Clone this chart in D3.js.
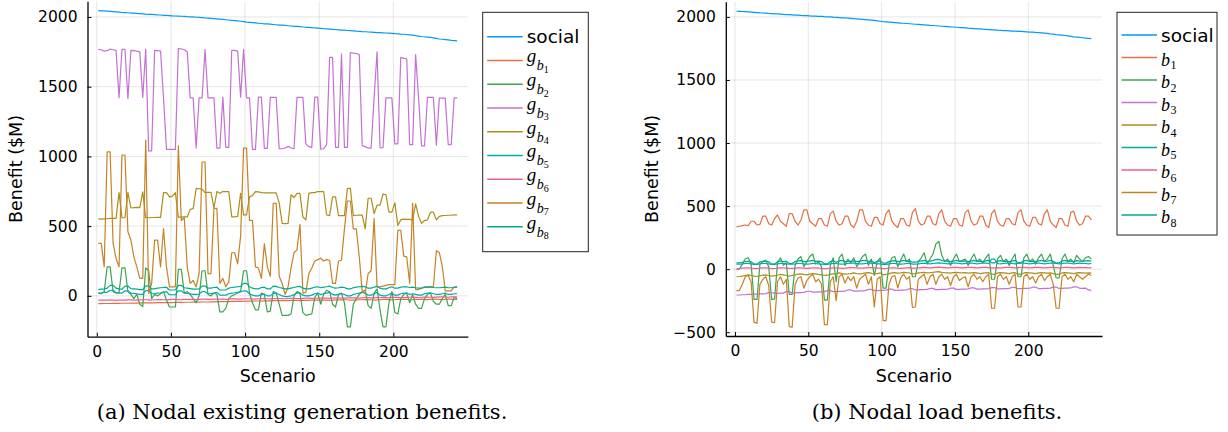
<!DOCTYPE html>
<html><head><meta charset="utf-8">
<script src="https://cdn.jsdelivr.net/npm/d3@7"></script>
<style>body{margin:0;background:#fff}svg{display:block}</style>
</head><body><svg id="c" width="1228" height="432"></svg>
<script>
// Scenario index (sampled every 2nd scenario)
const scenarios = d3.range(1, 244, 2);
const xTicks = [0, 50, 100, 150, 200];
const yTicksL = [0, 500, 1000, 1500, 2000];
const yTicksR = [-500, 0, 500, 1000, 1500, 2000];

const social = [2045,2044,2043,2042,2040,2038,2036,2034,2032,2031,
2030,2028,2027,2025,2024,2022,2020,2019,2018,2017,
2015,2014,2012,2011,2010,2008,2007,2006,2005,2004,
2002,2001,2000,1998,1997,1995,1993,1992,1990,1988,
1986,1984,1982,1980,1978,1976,1974,1972,1969,1966,
1963,1961,1959,1957,1955,1953,1951,1950,1948,1946,
1944,1942,1941,1939,1937,1935,1933,1932,1930,1928,
1926,1925,1923,1921,1920,1918,1916,1915,1913,1911,
1910,1908,1906,1905,1903,1902,1900,1898,1897,1895,
1894,1892,1891,1890,1888,1887,1886,1885,1884,1882,
1880,1879,1877,1876,1874,1872,1870,1866,1863,1860,
1858,1856,1853,1850,1846,1842,1840,1838,1835,1832,
1830,1828];

// ---- (a) generation benefits ----
const gb1 = [-56,-56,-55,-55,-55,-54,-54,-54,-53,-53,-53,-52,-52,-52,-51,-51,-51,-50,-50,-50,-49,-49,-49,-48,-48,-48,-47,-47,-47,-46,
-46,-46,-45,-45,-45,-44,-44,-44,-43,-43,-42,-42,-42,-41,-41,-40,-40,-40,-39,-39,-38,-38,-38,-37,-37,-37,-36,-36,-36,-35,
-35,-35,-34,-34,-34,-33,-33,-33,-32,-32,-32,-31,-31,-31,-30,-30,-30,-31,-32,-30,-29,-29,-29,-28,-28,-30,-31,-29,-28,-28,
-27,-27,-28,-30,-29,-27,-26,-26,-27,-29,-28,-26,-25,-25,-26,-28,-27,-25,-25,-24,-26,-27,-25,-24,-24,-25,-27,-26,-24,-24,
-25,-26];
const gb2 = [20,15,30,208,208,30,20,25,200,200,
30,10,-20,10,-60,-77,200,180,-20,10,
0,15,30,-30,-80,-80,-80,190,190,20,
30,10,-20,-50,0,180,180,10,0,20,
10,-115,-115,-90,-20,0,10,20,30,180,
180,20,-50,-100,-100,20,10,-115,-110,30,
20,-60,-140,-140,-140,-130,0,30,20,-120,
-140,-135,-130,-10,20,-60,10,40,30,-60,
-80,10,20,-50,-222,-222,-60,-20,10,30,
40,-70,-90,20,50,-100,-222,-222,-50,30,
-120,-130,-20,10,20,-50,10,-60,-90,-90,
-20,10,20,-40,-60,-60,-20,10,-70,-70,
-10,-20];
const gb3 = [1768,1765,1755,1758,1770,1765,1760,1420,1768,1768,
1415,1760,1758,1755,1750,1423,1768,1040,1040,1760,
1758,1755,1420,1050,1050,1050,1050,1775,1770,1765,
1750,1420,1420,1060,1420,1420,1768,1420,1420,1420,
1060,1060,1425,1065,1065,1760,1760,1755,1425,1768,
1420,1420,1050,1050,1425,1425,1058,1058,1423,1423,
1423,1055,1055,1060,1072,1060,1055,1423,1423,1423,
1090,1070,1065,1425,1425,1052,1055,1085,1710,1710,
1065,1065,1735,1065,1065,1745,1740,1738,1730,1077,
1070,1060,1060,1420,1750,1062,1062,1420,1420,1420,
1090,1090,1710,1705,1700,1085,1085,1730,1420,1075,
1075,1423,1423,1423,1080,1418,1418,1418,1085,1085,
1420,1420];
const gb4 = [552,550,552,553,555,556,556,740,560,560,
742,630,632,635,632,745,560,560,562,562,
563,563,740,740,710,715,740,565,565,566,
566,620,625,770,768,765,740,742,742,630,
748,735,748,748,748,567,567,570,735,580,
580,710,720,748,745,740,738,738,738,738,
738,667,520,518,520,725,705,735,735,565,
545,735,740,740,748,748,748,580,575,710,
710,575,575,575,770,770,575,578,579,579,
480,700,700,590,650,650,730,725,600,600,
667,505,545,550,548,548,545,660,570,520,
540,545,600,600,545,570,575,576,578,578,
580,580];
const gb5 = [20,22,25,25,40,40,22,20,20,35,
35,20,18,15,10,10,38,38,15,15,
20,22,25,30,8,8,8,35,35,20,
18,15,10,10,12,30,30,15,15,20,
25,5,5,5,15,20,22,25,30,35,
35,15,5,0,0,10,12,0,0,18,
20,10,0,-5,-5,0,10,20,20,5,
0,0,5,15,20,10,15,20,25,10,
5,10,15,10,0,0,10,15,20,25,
20,5,5,15,25,5,0,0,10,20,
5,5,15,20,20,10,15,10,5,5,
15,20,22,15,10,10,15,20,10,10,
15,15];
const gb6 = [-30,-30,-31,-31,-30,-30,-32,-31,-30,-30,-29,-29,-30,-31,-29,-28,-28,-29,-30,-28,-27,-27,-28,-29,-27,-26,-26,-27,-28,-26,
-25,-25,-26,-27,-25,-24,-24,-25,-26,-24,-23,-23,-24,-25,-23,-22,-22,-23,-24,-22,-21,-21,-22,-23,-21,-20,-20,-21,-22,-20,
-19,-19,-20,-21,-19,-18,-18,-19,-20,-18,-17,-17,-18,-19,-17,-16,-16,-17,-18,-16,-15,-15,-16,-17,-15,-14,-14,-15,-16,-14,
-13,-13,-14,-15,-13,-12,-12,-13,-14,-12,-11,-11,-12,-13,-11,-10,-10,-11,-12,-10,-9,-9,-10,-11,-9,-8,-8,-9,-10,-8,
-8,-8];
const gb7 = [376,376,208,1033,1033,376,268,208,1010,1010,
459,400,280,208,125,125,1117,17,89,400,
400,208,483,208,65,65,65,1075,540,560,
208,89,110,65,160,960,960,160,160,627,
627,89,125,65,100,309,309,230,430,1060,
1060,541,541,208,200,125,374,208,140,663,
663,140,89,10,65,200,309,330,513,20,
25,160,200,250,260,270,250,260,255,89,
89,250,255,480,680,680,480,480,280,30,
17,160,180,555,65,65,70,75,80,80,
80,470,470,285,280,90,663,45,45,55,
65,65,65,65,324,310,210,35,35,35,
65,65];
const gb8 = [45,48,50,55,75,75,55,50,48,70,
70,52,50,48,45,45,72,72,50,50,
55,58,60,62,42,42,42,75,75,58,
55,52,48,48,50,70,70,55,55,60,
62,42,42,42,55,60,62,65,68,90,
90,65,55,50,50,60,62,50,50,70,
68,60,55,50,50,55,60,65,68,55,
50,50,55,62,65,58,62,65,70,60,
55,58,62,60,50,50,58,62,65,68,
65,55,55,62,68,55,50,50,58,65,
55,55,62,65,65,60,62,58,55,55,
60,62,64,60,58,58,60,62,58,58,
60,62];

// ---- (b) load benefits ----
const b1 = [335,340,345,350,345,380,380,350,355,420,
420,360,350,400,430,380,360,340,440,440,
380,350,390,470,470,380,360,340,400,400,
350,340,440,460,380,350,360,420,420,350,
330,380,470,470,380,350,340,410,410,360,
350,440,470,380,350,330,400,400,350,340,
450,480,380,350,360,420,420,360,350,440,
470,380,350,340,400,400,350,340,450,470,
380,350,360,420,420,350,330,440,470,380,
350,340,400,400,360,350,450,470,380,350,
340,410,410,360,350,440,470,380,350,330,
400,400,350,340,450,460,380,350,360,420,
420,390];
const b2 = [0,0,40,80,90,40,-240,-240,40,60,
70,20,-240,-235,50,90,30,50,-200,-200,
30,80,100,20,60,100,120,40,60,20,
-245,-245,30,90,-100,90,120,30,80,50,
90,20,60,100,120,30,80,-50,60,90,
-150,-150,30,90,100,20,70,120,60,80,
-60,-60,60,90,130,40,80,120,200,220,
110,60,80,30,80,120,60,70,80,30,
80,120,60,80,50,90,120,-80,-80,80,
110,60,80,30,80,120,-60,-60,90,120,
60,80,40,90,120,60,80,120,30,-70,
-70,80,120,60,80,50,110,80,60,90,
100,80];
const b3 = [-205,-205,-203,-203,-200,-200,-198,-198,-196,-196,
-194,-185,-185,-192,-192,-190,-190,-178,-178,-188,
-188,-186,-186,-184,-175,-175,-182,-182,-180,-180,
-178,-170,-170,-178,-178,-176,-176,-174,-165,-165,
-174,-174,-172,-172,-170,-160,-160,-170,-170,-168,
-168,-166,-158,-158,-168,-168,-166,-166,-164,-155,
-155,-165,-165,-163,-163,-161,-152,-152,-162,-162,
-160,-160,-158,-150,-150,-160,-160,-158,-158,-156,
-148,-148,-158,-158,-156,-156,-154,-146,-146,-156,
-156,-154,-154,-152,-145,-145,-155,-155,-153,-153,
-151,-143,-143,-154,-154,-152,-152,-150,-142,-142,
-153,-153,-151,-151,-149,-140,-140,-152,-152,-150,
-165,-168];
const b4 = [-60,-58,-55,-50,-45,-50,-55,-58,-52,-48,
-45,-50,-55,-52,-48,-42,-45,-50,-55,-50,
-45,-40,-38,-42,-45,-40,-35,-38,-42,-45,
-50,-48,-42,-38,-35,-30,-35,-40,-38,-35,
-30,-35,-38,-35,-30,-28,-32,-40,-35,-30,
-45,-42,-35,-30,-28,-32,-30,-25,-28,-30,
-38,-36,-30,-28,-25,-30,-28,-25,-22,-20,
-25,-28,-30,-32,-28,-25,-28,-30,-28,-32,
-30,-28,-30,-35,-32,-30,-28,-40,-42,-30,
-28,-30,-32,-35,-30,-28,-40,-42,-30,-28,
-30,-32,-35,-30,-28,-30,-32,-30,-35,-42,
-40,-30,-28,-30,-32,-35,-30,-28,-30,-32,
-30,-32];
const b5 = [40,40,42,45,45,42,38,38,42,45,
45,42,38,38,42,45,45,42,40,40,
42,45,45,42,40,42,45,45,42,40,
38,38,42,45,45,42,40,42,45,48,
48,45,42,42,45,48,48,45,42,42,
38,38,42,45,45,42,40,42,45,48,
40,40,42,45,48,45,42,45,48,50,
48,45,42,45,48,48,45,42,45,48,
48,45,42,45,48,48,45,80,80,45,
42,45,48,48,45,42,45,48,48,45,
42,45,48,48,45,42,45,48,48,45,
42,45,48,48,45,42,45,48,45,45,
42,45];
const b6 = [5,5,8,10,10,8,5,5,8,10,
10,8,5,5,8,10,10,8,6,6,
8,10,10,8,6,8,10,10,8,6,
5,5,8,10,10,8,6,8,10,12,
12,10,8,8,10,12,12,10,8,8,
5,5,8,10,10,8,6,8,10,12,
8,8,10,12,14,12,10,12,14,16,
14,12,10,12,14,14,12,10,12,14,
14,12,10,12,14,14,12,10,10,12,
10,12,14,14,12,10,12,14,14,12,
10,12,14,14,12,10,12,14,14,12,
10,12,14,14,12,10,12,14,12,12,
10,12];
const b7 = [-170,-170,-120,-60,-50,-100,-420,-430,-120,-80,
-60,-130,-420,-425,-100,-60,-120,-80,-455,-460,
-120,-70,-60,-150,-90,-60,-40,-100,-80,-120,
-440,-440,-100,-60,-250,-60,-40,-110,-60,-90,
-60,-150,-80,-60,-40,-120,-60,-300,-80,-60,
-408,-408,-120,-60,-50,-150,-70,-40,-80,-60,
-303,-300,-80,-60,-40,-120,-60,-40,-120,-60,
-40,-80,-60,-130,-60,-40,-90,-70,-60,-140,
-60,-40,-80,-60,-100,-60,-40,-310,-310,-60,
-40,-80,-60,-120,-60,-40,-300,-300,-60,-40,
-80,-60,-110,-60,-40,-90,-60,-40,-120,-310,
-310,-60,-40,-80,-60,-100,-40,-60,-80,-60,
-40,-50];
const b8 = [50,50,55,60,62,58,40,40,58,62,
65,58,40,40,60,65,60,62,45,45,
60,65,68,60,62,66,70,62,64,60,
42,42,60,66,55,66,70,60,64,62,
66,60,64,68,70,62,64,50,62,66,
48,48,60,66,68,60,64,70,62,64,
55,55,62,66,70,62,64,70,75,78,
70,64,66,60,64,70,62,64,66,60,
64,70,62,64,60,66,70,50,50,64,
68,62,64,60,64,70,52,52,66,70,
62,64,60,66,70,62,64,70,60,50,
50,64,70,62,64,60,68,64,62,66,
68,64];

const colors = ["#009AFA","#E36F47","#3EA44E","#C371D2","#AC8E18","#00AAAE","#ED5E93","#C68225","#00A98D"];

const svg = d3.select("#c");

function drawPanel(p) {
  const g = svg.append("g");
  const x = d3.scaleLinear().domain([-6.26, 250.26]).range([p.x0, p.x1]);
  const y = d3.scaleLinear().domain(p.ydom).range([p.yb, p.yt]);
  g.append("g").selectAll("line").data(xTicks).join("line")
    .attr("x1", d => x(d)).attr("x2", d => x(d)).attr("y1", p.yt).attr("y2", p.yb)
    .attr("stroke", "#000").attr("stroke-opacity", 0.1).attr("stroke-width", 1);
  g.append("g").selectAll("line").data(p.yTicks).join("line")
    .attr("x1", p.x0).attr("x2", p.x1).attr("y1", d => y(d)).attr("y2", d => y(d))
    .attr("stroke", "#000").attr("stroke-opacity", 0.1).attr("stroke-width", 1);
  const line = d3.line().x((d, i) => x(scenarios[i])).y(d => y(d));
  p.series.forEach((s, k) => {
    g.append("path").attr("d", line(s)).attr("fill", "none")
      .attr("stroke", colors[k]).attr("stroke-width", 1.2).attr("stroke-linejoin", "round");
  });
  const fmt = d3.format("d");
  const ax = g.append("g").attr("transform", `translate(0,${p.yb})`)
    .call(d3.axisBottom(x).tickValues(xTicks).tickFormat(fmt).tickSize(-4).tickSizeOuter(0).tickPadding(9));
  const ay = g.append("g").attr("transform", `translate(${p.x0},0)`)
    .call(d3.axisLeft(y).tickValues(p.yTicks).tickFormat(fmt).tickSize(-4).tickSizeOuter(0).tickPadding(10));
  [ax, ay].forEach(a => {
    a.select(".domain").attr("stroke", "#000").attr("stroke-width", 1.3);
    a.selectAll(".tick line").attr("stroke", "#000").attr("stroke-width", 1);
    a.selectAll(".tick text").attr("font-family", "DejaVu Sans").attr("font-size", 15.5).attr("fill", "#000");
  });
  g.append("text").attr("x", (p.x0 + p.x1) / 2).attr("y", 382).attr("text-anchor", "middle")
    .attr("font-family", "DejaVu Sans").attr("font-size", 17.5).text("Scenario");
  g.append("text").attr("transform", `translate(${p.ylabX},${(p.yt + p.yb) / 2}) rotate(-90)`)
    .attr("text-anchor", "middle").attr("font-family", "DejaVu Sans").attr("font-size", 17.5).text("Benefit ($M)");
  g.append("text").attr("x", p.capX).attr("y", 419).attr("text-anchor", "middle")
    .attr("font-family", "DejaVu Serif").attr("font-size", 21).text(p.caption);
  const lg = g.append("g");
  lg.append("rect").attr("x", p.lg.x).attr("y", p.lg.y).attr("width", p.lg.w).attr("height", p.lg.h)
    .attr("fill", "#fff").attr("stroke", "#222").attr("stroke-width", 1);
  p.labels.forEach((lab, k) => {
    const ry = p.lg.row0 + k * p.lg.dy;
    lg.append("line").attr("x1", p.lg.x + 4.5).attr("x2", p.lg.x + 40).attr("y1", ry).attr("y2", ry)
      .attr("stroke", colors[k]).attr("stroke-width", 1.6);
    const tx = p.lg.x + 44;
    if (k === 0) {
      lg.append("text").attr("x", tx).attr("y", ry + 6.5).attr("font-family", "DejaVu Sans")
        .attr("font-size", 18.5).text(lab);
    } else if (p.genLegend) {
      const t = lg.append("text").attr("x", tx).attr("y", ry + 2).attr("font-family", "Liberation Serif");
      t.append("tspan").attr("font-style", "italic").attr("font-size", 19).text("g");
      t.append("tspan").attr("font-style", "italic").attr("font-size", 14).attr("dy", 8).attr("dx", 0.5).text("b");
      t.append("tspan").attr("font-size", 10).attr("dy", 2.5).text(lab);
    } else {
      const t = lg.append("text").attr("x", tx).attr("y", ry + 8).attr("font-family", "Liberation Serif");
      t.append("tspan").attr("font-style", "italic").attr("font-size", 18).text("b");
      t.append("tspan").attr("font-size", 12).attr("dy", 3.5).attr("dx", 0.5).text(lab);
    }
  });
}

drawPanel({
  x0: 87.5, x1: 467.9, yt: 1.2, yb: 336.7, ydom: [-293, 2113], yTicks: yTicksL,
  series: [social, gb1, gb2, gb3, gb4, gb5, gb6, gb7, gb8],
  ylabX: 22, capX: 302, caption: "(a) Nodal existing generation benefits.",
  genLegend: true, labels: ["social","1","2","3","4","5","6","7","8"],
  lg: { x: 482.7, y: 12.3, w: 105.6, h: 239.4, row0: 36.7, dy: 23.75 }
});
drawPanel({
  x0: 725.8, x1: 1102, yt: 1.8, yb: 336, ydom: [-530, 2120], yTicks: yTicksR,
  series: [social, b1, b2, b3, b4, b5, b6, b7, b8],
  ylabX: 658, capX: 937, caption: "(b) Nodal load benefits.",
  genLegend: false, labels: ["social","1","2","3","4","5","6","7","8"],
  lg: { x: 1117, y: 12.3, w: 100, h: 222.7, row0: 35, dy: 22.5 }
});
</script>
</body></html>
